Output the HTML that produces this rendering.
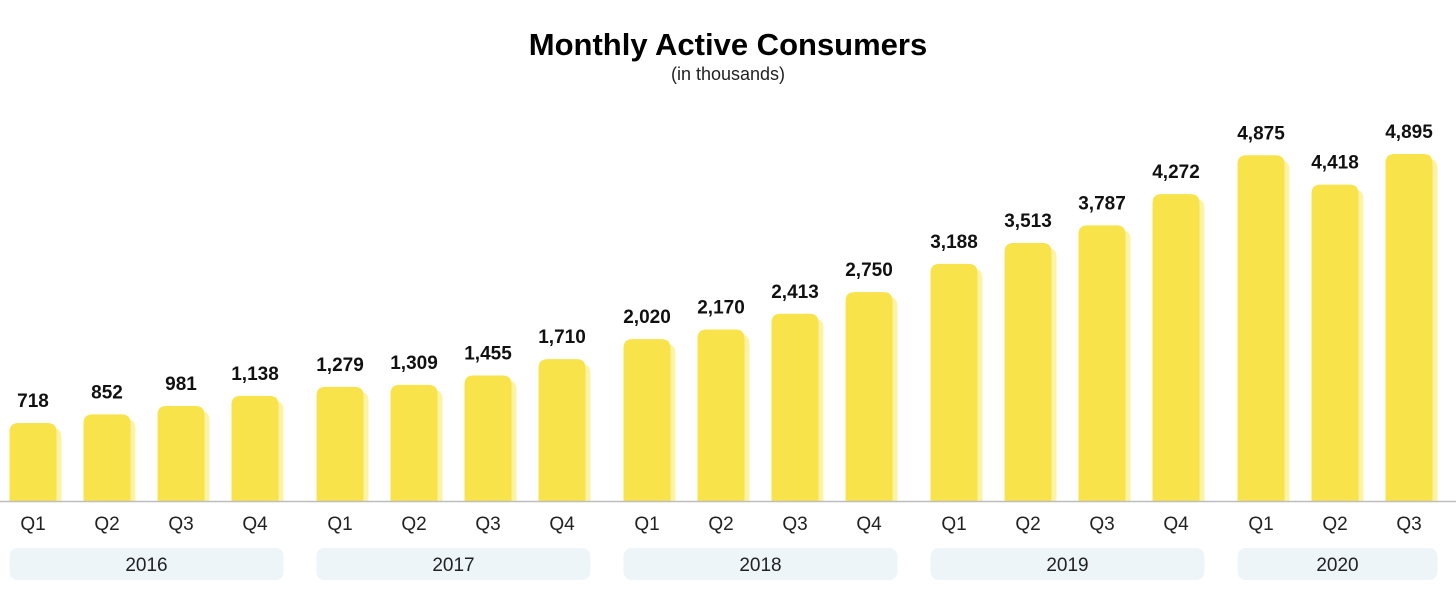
<!DOCTYPE html>
<html><head><meta charset="utf-8"><style>
html,body{margin:0;padding:0;background:#fff;}
svg{display:block;font-family:"Liberation Sans",sans-serif;}
</style></head><body>
<svg id="chart" width="1456" height="599">
<text x="728" y="55" text-anchor="middle" font-size="31" font-weight="bold" fill="#000">Monthly Active Consumers</text>
<text x="728" y="80" text-anchor="middle" font-size="18" fill="#222">(in thousands)</text>
<g id="pills"></g>
<g id="bars"></g>
<line x1="0" y1="501.5" x2="1456" y2="501.5" stroke="#bdbdbd" stroke-width="1.5"/>
<g id="labels"></g>
</svg>
<script>
const years = ["2016","2017","2018","2019","2020"];
const quarters = ["Q1","Q2","Q3","Q4"];
const categories = ["2016 Q1","2016 Q2","2016 Q3","2016 Q4","2017 Q1","2017 Q2","2017 Q3","2017 Q4","2018 Q1","2018 Q2","2018 Q3","2018 Q4","2019 Q1","2019 Q2","2019 Q3","2019 Q4","2020 Q1","2020 Q2","2020 Q3"];
const values = [718,852,981,1138,1279,1309,1455,1710,2020,2170,2413,2750,3188,3513,3787,4272,4875,4418,4895];
const valueLabels = ["718","852","981","1,138","1,279","1,309","1,455","1,710","2,020","2,170","2,413","2,750","3,188","3,513","3,787","4,272","4,875","4,418","4,895"];

const NS="http://www.w3.org/2000/svg";
const baseY=501;
function xCenter(i){const y=Math.floor(i/4),q=i%4;return 33+y*307+q*74;}
function barH(v){return 31.8+0.0644*v;}
function mk(tag,attrs,parent){const e=document.createElementNS(NS,tag);for(const k in attrs)e.setAttribute(k,attrs[k]);parent.appendChild(e);return e;}
const gB=document.getElementById('bars'),gL=document.getElementById('labels'),gP=document.getElementById('pills');
const bw=47;
values.forEach((v,i)=>{
  const cx=xCenter(i),h=barH(v),top=baseY-h;
  const sh=mk('path',{d:`M${cx-bw/2+5},${baseY} V${top+14} q0,-9 9,-9 H${cx+bw/2-4} q9,0 9,9 V${baseY} Z`,fill:'#fcf3a6'},gB);
  
  
  const b=mk('path',{d:`M${cx-bw/2},${baseY} V${top+9} q0,-9 9,-9 H${cx+bw/2-9} q9,0 9,9 V${baseY} Z`,fill:'#f8e34b'},gB);
  
  
  const t=mk('text',{x:cx,y:top-16,'text-anchor':'middle','font-size':19,'font-weight':'bold',fill:'#111'},gL);
  t.textContent=valueLabels[i];
  
  
  const q=mk('text',{x:cx,y:530,'text-anchor':'middle','font-size':19,fill:'#222'},gL);
  q.textContent=quarters[i%4];
  
  
});
years.forEach((yr,j)=>{
  const first=j*4,last=Math.min(values.length-1,j*4+3);
  const x0=xCenter(first)-bw/2,x1=xCenter(last)+bw/2+5;
  const r=mk('rect',{x:x0,y:548,width:x1-x0,height:32,rx:8,fill:'#eef5f9'},gP);
  
  
  const t=mk('text',{x:(x0+x1)/2,y:571,'text-anchor':'middle','font-size':19,fill:'#222'},gP);
  t.textContent=yr;
  
  
});
</script>
</body></html>
